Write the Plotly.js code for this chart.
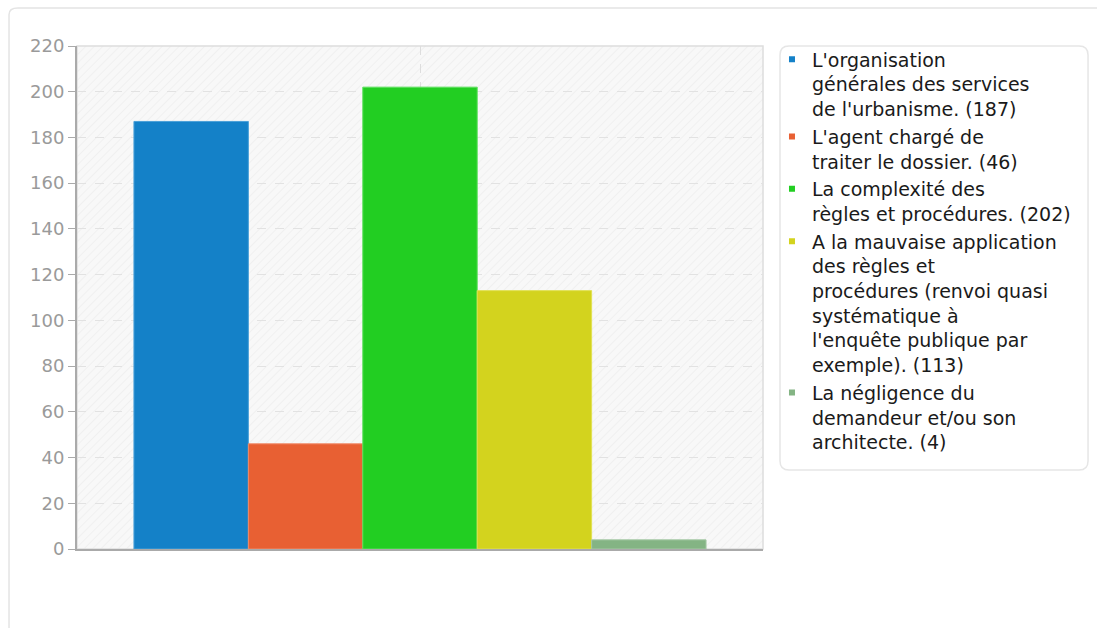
<!DOCTYPE html>
<html>
<head>
<meta charset="utf-8">
<script src="https://cdn.plot.ly/plotly-3.0.1.min.js"></script>
<style>
html,body{margin:0;padding:0;background:#fff;}
#chart{width:1097px;height:628px;}
</style>
</head>
<body>
<div id="chart"></div>
<script>
// ---- data ----
var categories = [""];
var seriesNames = [
  "L'organisation<br>générales des services<br>de l'urbanisme. (187)",
  "L'agent chargé de<br>traiter le dossier. (46)",
  "La complexité des<br>règles et procédures. (202)",
  "A la mauvaise application<br>des règles et<br>procédures (renvoi quasi<br>systématique à<br>l'enquête publique par<br>exemple). (113)",
  "La négligence du<br>demandeur et/ou son<br>architecte. (4)"
];
var seriesValues = [187, 46, 202, 113, 4];
var seriesColors = ["#1481c8", "#e86033", "#22ce22", "#d3d31e", "#84b484"];
var seriesEdge = ["#4aa0d8", "#f08a68", "#5ce05c", "#e0e050", "#a6c8a6"];
var yTickVals = [0, 20, 40, 60, 80, 100, 120, 140, 160, 180, 200, 220];

// ---- traces ----
var traces = [];
for (var i = 0; i < seriesValues.length; i++) {
  traces.push({
    type: "bar",
    x: categories,
    y: [seriesValues[i]],
    name: seriesNames[i],
    marker: {color: seriesColors[i], line: {color: seriesEdge[i], width: 1}},
    showlegend: false,
    hoverinfo: "y+name"
  });
}
// legend entries (small square markers)
for (var j = 0; j < seriesValues.length; j++) {
  traces.push({
    type: "scatter",
    mode: "markers",
    x: [null], y: [null],
    name: seriesNames[j],
    legendgroup: "g" + j,
    marker: {symbol: "square", size: 6, color: seriesColors[j]},
    showlegend: true,
    hoverinfo: "skip"
  });
}

var hatch = 'data:image/svg+xml;utf8,' + encodeURIComponent(
  '<svg xmlns="http://www.w3.org/2000/svg" width="686" height="503" viewBox="0 0 686 503" preserveAspectRatio="none">' +
  '<defs><pattern id="p" width="6" height="6" patternUnits="userSpaceOnUse" patternTransform="rotate(45)">' +
  '<rect width="6" height="6" fill="#f8f8f8"/><line x1="0" y1="0" x2="0" y2="6" stroke="#ececec" stroke-width="1.2"/></pattern></defs>' +
  '<rect width="686" height="503" fill="url(#p)"/></svg>');

var layout = {
  width: 1097, height: 628,
  margin: {l: 77, r: 334, t: 46, b: 79},
  paper_bgcolor: "rgba(0,0,0,0)",
  plot_bgcolor: "rgba(0,0,0,0)",
  font: {family: "DejaVu Sans", size: 18, color: "#222"},
  barmode: "group",
  bargap: 0.166,
  bargroupgap: 0,
  xaxis: {
    type: "category",
    showticklabels: false,
    ticks: "",
    showgrid: true, gridcolor: "#dddddd", griddash: "dash", gridwidth: 1,
    showline: true, linecolor: "#aaaaaa", linewidth: 2,
    zeroline: false, fixedrange: true
  },
  yaxis: {
    range: [0, 220],
    tickvals: yTickVals,
    ticks: "outside", ticklen: 7, tickcolor: "#aaaaaa", tickwidth: 1,
    tickfont: {family: "DejaVu Sans", size: 18, color: "#9a9a9a"},
    showgrid: true, gridcolor: "#e2e2e2", griddash: "dash", gridwidth: 1,
    showline: true, linecolor: "#aaaaaa", linewidth: 2,
    zeroline: false, fixedrange: true
  },
  images: [{
    source: hatch, xref: "paper", yref: "paper",
    x: 0, y: 1, sizex: 1, sizey: 1, sizing: "stretch",
    xanchor: "left", yanchor: "top", layer: "below"
  }],
  shapes: [
    // outer container
    {type: "path", xref: "paper", yref: "paper", layer: "below",
     path: "M -0.0991,-0.17 L -0.0991,1.0624 Q -0.0991,1.0755 -0.0861,1.0755 L 1.6,1.0755",
     line: {color: "#e4e4e4", width: 1.5}},
    // plot frame top/right
    {type: "rect", xref: "paper", yref: "paper", x0: 0, y0: 0, x1: 1, y1: 1,
     line: {color: "#dddddd", width: 1.5}, layer: "below"},
    // legend box (rounded)
    {type: "path", xref: "paper", yref: "paper", layer: "below",
     path: "M 1.0379,1 L 1.4607,1 Q 1.4738,1 1.4738,0.9821 L 1.4738,0.1749 Q 1.4738,0.157 1.4607,0.157 L 1.0379,0.157 Q 1.0248,0.157 1.0248,0.1749 L 1.0248,0.9821 Q 1.0248,1 1.0379,1 Z",
     fillcolor: "#ffffff", line: {color: "#e6e6e6", width: 1.5}}
  ],
  legend: {
    x: 1.0131, xanchor: "left", y: 1.011, yanchor: "top",
    maxheight: 620,
    bgcolor: "rgba(0,0,0,0)", borderwidth: 0,
    font: {family: "DejaVu Sans", size: 19, color: "#1a1a1a"},
    valign: "top", tracegroupgap: 0, itemclick: false, itemdoubleclick: false
  },
  showlegend: true
};

Plotly.newPlot("chart", traces, layout, {displayModeBar: false, staticPlot: true});
</script>
</body>
</html>
